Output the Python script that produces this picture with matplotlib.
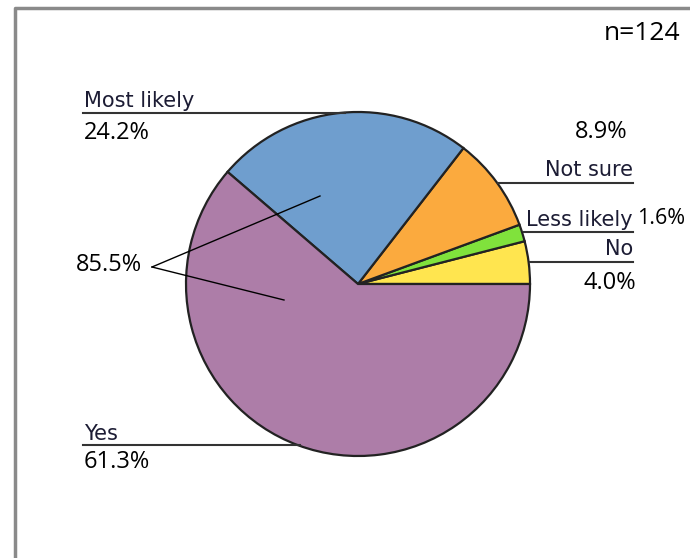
import matplotlib
matplotlib.use("Agg")
import matplotlib.pyplot as plt

# slices in drawing order (counter-clockwise from 3 o'clock)
categories = ["No", "Less likely", "Not sure", "Most likely", "Yes"]
shares = [4.0, 1.6, 8.9, 24.2, 61.3]
colors = ["#FFE54F", "#80E23C", "#FBAA3E", "#6F9ECE", "#AD7DA8"]
n_total = 124
combined = "85.5%"  # Yes + Most likely

W, H = 690, 558
def yy(ypx): return H - ypx  # pixel row -> data y

fig = plt.figure(figsize=(W / 100, H / 100), dpi=100)
ax = fig.add_axes([0, 0, 1, 1])
ax.set_xlim(0, W)
ax.set_ylim(0, H)
ax.set_aspect("equal")
ax.axis("off")

ax.pie(shares, colors=colors, startangle=0, counterclock=True,
       center=(358, yy(284)), radius=172,
       wedgeprops=dict(edgecolor="#222222", linewidth=1.6))
ax.set_xlim(0, W)
ax.set_ylim(0, H)

# frame (cropped at right/bottom)
ax.plot([15, 15, W + 5], [-5, yy(8), yy(8)], color="#8a8a8a", lw=2.5, solid_capstyle="butt")

lab = dict(family="DejaVu Sans", fontsize=15, color="#1c1c34")
pct = dict(family="Open Sans", fontsize=17, color="black")
line = dict(color="#333333", lw=1.5)

ax.text(680, yy(33), f"n={n_total}", family="Open Sans", fontsize=19, ha="right", va="center")

# Most likely
ax.text(84, yy(107), categories[3], ha="left", va="baseline", **lab)
ax.plot([83, 345], [yy(113), yy(113)], **line)
ax.text(84, yy(133), f"{shares[3]:.1f}%", ha="left", va="center", **pct)

# Not sure
ax.text(628, yy(132), f"{shares[2]:.1f}%", ha="right", va="center", **pct)
ax.text(633, yy(176), categories[2], ha="right", va="baseline", **lab)
ax.plot([498, 633], [yy(183), yy(183)], **line)

# Less likely
ax.text(633, yy(226), categories[1], ha="right", va="baseline", **lab)
ax.text(637, yy(219), f"{shares[1]:.1f}%", ha="left", va="center",
        family="Open Sans", fontsize=15.5, color="black")
ax.plot([524, 633], [yy(232), yy(232)], **line)

# No
ax.text(633, yy(255), categories[0], ha="right", va="baseline", **lab)
ax.plot([530, 633], [yy(262), yy(262)], **line)
ax.text(636, yy(283), f"{shares[0]:.1f}%", ha="right", va="center", **pct)

# Yes
ax.text(84, yy(440), categories[4], ha="left", va="baseline", **lab)
ax.plot([83, 300], [yy(445), yy(445)], **line)
ax.text(84, yy(462), f"{shares[4]:.1f}%", ha="left", va="center", **pct)

# combined label
ax.text(142, yy(265), combined, ha="right", va="center", **pct)
ax.plot([152, 320], [yy(267), yy(196)], color="black", lw=1)
ax.plot([152, 284], [yy(267), yy(300)], color="black", lw=1)

fig.savefig("out.png", dpi=100)
